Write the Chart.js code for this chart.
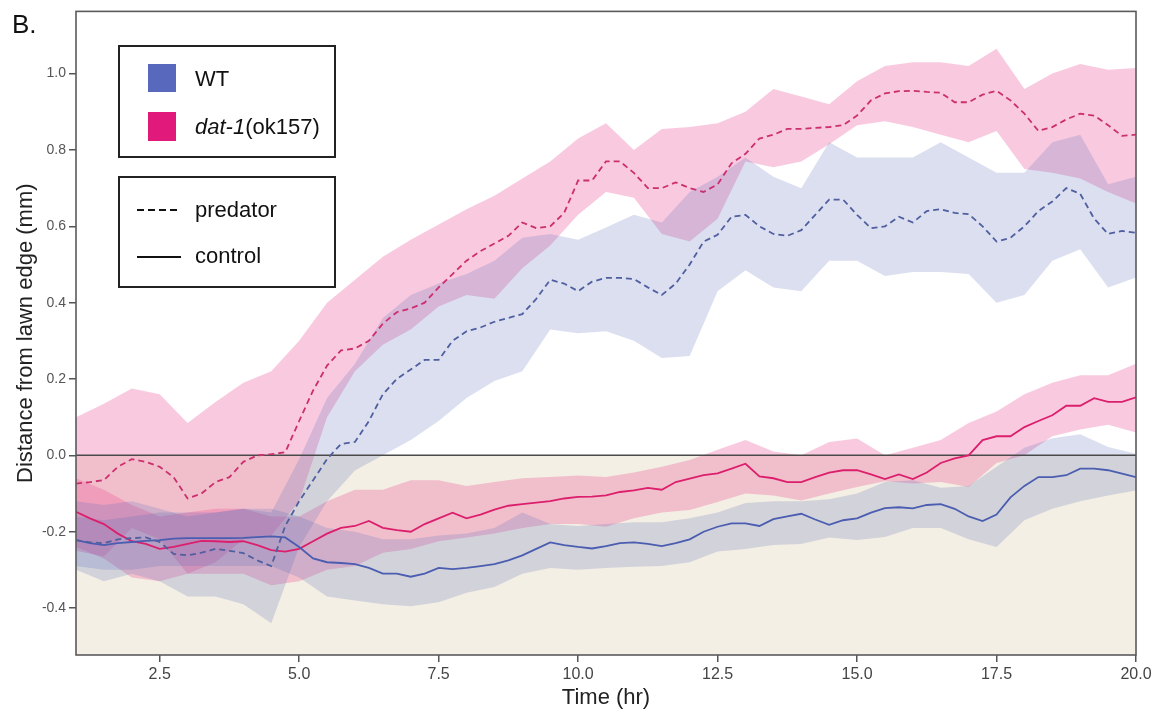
<!DOCTYPE html>
<html>
<head>
<meta charset="utf-8">
<title>Distance from lawn edge</title>
<script src="https://cdn.jsdelivr.net/npm/chart.js@4.4.1/dist/chart.umd.min.js"></script>
<style>
  html, body { margin: 0; padding: 0; background: #fff; }
  #wrap { position: relative; width: 1162px; height: 715px; }
</style>
</head>
<body>
<div id="wrap"><canvas id="chart"></canvas></div>
<script>
// time points (hr) for the shaded bands
const bandTimes = [1, 1.5, 2, 2.5, 3, 3.5, 4, 4.5, 5, 5.5, 6, 6.5, 7, 7.5, 8, 8.5, 9, 9.5, 10,
  10.5, 11, 11.5, 12, 12.5, 13, 13.5, 14, 14.5, 15, 15.5, 16, 16.5, 17, 17.5, 18, 18.5, 19, 19.5, 20];

// time points (hr) for the mean lines
const lineTimes = [
  1, 1.25, 1.5, 1.75, 2, 2.25, 2.5, 2.75, 3, 3.25, 3.5, 3.75, 4, 4.25, 4.5, 4.75,
  5, 5.25, 5.5, 5.75, 6, 6.25, 6.5, 6.75, 7, 7.25, 7.5, 7.75, 8, 8.25, 8.5, 8.75,
  9, 9.25, 9.5, 9.75, 10, 10.25, 10.5, 10.75, 11, 11.25, 11.5, 11.75, 12, 12.25, 12.5, 12.75,
  13, 13.25, 13.5, 13.75, 14, 14.25, 14.5, 14.75, 15, 15.25, 15.5, 15.75, 16, 16.25, 16.5, 16.75,
  17, 17.25, 17.5, 17.75, 18, 18.25, 18.5, 18.75, 19, 19.25, 19.5, 19.75, 20];

// WT, predator (dashed)
const wtPredMean = [
  -0.222, -0.228, -0.23, -0.22, -0.217, -0.215, -0.227, -0.258, -0.262, -0.255, -0.245, -0.25,
  -0.256, -0.275, -0.29, -0.185, -0.12, -0.065, -0.01, 0.03, 0.035, 0.09, 0.16, 0.20,
  0.225, 0.25, 0.25, 0.30, 0.325, 0.335, 0.35, 0.36, 0.37, 0.41, 0.46, 0.45,
  0.43, 0.455, 0.465, 0.465, 0.462, 0.44, 0.42, 0.45, 0.50, 0.56, 0.578, 0.625,
  0.63, 0.60, 0.58, 0.575, 0.59, 0.63, 0.67, 0.67, 0.63, 0.595, 0.60, 0.625,
  0.61, 0.64, 0.645, 0.635, 0.632, 0.60, 0.56, 0.57, 0.60, 0.64, 0.665, 0.70,
  0.685, 0.62, 0.58, 0.588, 0.583];
const wtPredUpper = [-0.12, -0.13, -0.12, -0.14, -0.16, -0.15, -0.14, -0.15, -0.01,
  0.15, 0.24, 0.36, 0.42, 0.45, 0.475, 0.51, 0.57, 0.58, 0.565,
  0.597, 0.63, 0.61, 0.69, 0.73, 0.78, 0.73, 0.70, 0.82, 0.78,
  0.78, 0.78, 0.82, 0.78, 0.74, 0.74, 0.82, 0.84, 0.71, 0.73];
const wtPredLower = [-0.30, -0.33, -0.31, -0.33, -0.37, -0.37, -0.39, -0.44, -0.24,
  -0.12, -0.04, 0.0, 0.04, 0.09, 0.15, 0.195, 0.22, 0.33, 0.32,
  0.325, 0.30, 0.255, 0.26, 0.43, 0.485, 0.44, 0.43, 0.51, 0.51,
  0.47, 0.48, 0.48, 0.475, 0.40, 0.42, 0.51, 0.54, 0.44, 0.466];

// WT, control (solid)
const wtCtrlMean = [
  -0.222, -0.23, -0.235, -0.23, -0.227, -0.224, -0.222, -0.218, -0.217, -0.217, -0.217, -0.217,
  -0.216, -0.214, -0.212, -0.215, -0.24, -0.27, -0.28, -0.282, -0.285, -0.295, -0.31, -0.31,
  -0.318, -0.31, -0.295, -0.298, -0.295, -0.29, -0.285, -0.275, -0.262, -0.245, -0.228, -0.235,
  -0.24, -0.244, -0.238, -0.23, -0.228, -0.232, -0.238, -0.23, -0.22, -0.2, -0.187, -0.178,
  -0.178, -0.185, -0.167, -0.16, -0.153, -0.168, -0.182, -0.17, -0.165, -0.15, -0.138, -0.136,
  -0.139, -0.13, -0.128, -0.14, -0.16, -0.172, -0.155, -0.11, -0.08, -0.057, -0.057, -0.052,
  -0.035, -0.035, -0.039, -0.048, -0.057];
const wtCtrlUpper = [-0.16, -0.17, -0.16, -0.15, -0.15, -0.15, -0.14, -0.14, -0.16,
  -0.19, -0.2, -0.22, -0.22, -0.21, -0.205, -0.19, -0.15, -0.18, -0.185,
  -0.18, -0.175, -0.175, -0.165, -0.15, -0.125, -0.12, -0.12, -0.115, -0.1,
  -0.07, -0.065, -0.085, -0.08, -0.03, 0.02, 0.045, 0.055, 0.022, 0.004];
const wtCtrlLower = [-0.29, -0.30, -0.30, -0.29, -0.29, -0.29, -0.29, -0.29, -0.32,
  -0.37, -0.38, -0.39, -0.395, -0.385, -0.36, -0.345, -0.31, -0.295, -0.30,
  -0.295, -0.292, -0.29, -0.28, -0.252, -0.245, -0.235, -0.232, -0.215, -0.222,
  -0.214, -0.19, -0.19, -0.22, -0.24, -0.17, -0.14, -0.12, -0.105, -0.092];

// dat-1(ok157), predator (dashed)
const datPredMean = [
  -0.074, -0.07, -0.065, -0.03, -0.01, -0.017, -0.03, -0.057, -0.113, -0.10, -0.07, -0.057,
  -0.017, 0.0, 0.003, 0.008, 0.09, 0.17, 0.235, 0.275, 0.28, 0.30, 0.345, 0.375,
  0.385, 0.40, 0.44, 0.475, 0.51, 0.535, 0.555, 0.575, 0.61, 0.595, 0.60, 0.635,
  0.72, 0.72, 0.77, 0.77, 0.74, 0.70, 0.70, 0.715, 0.70, 0.69, 0.71, 0.765,
  0.79, 0.83, 0.84, 0.855, 0.855, 0.858, 0.86, 0.865, 0.89, 0.93, 0.948, 0.954,
  0.955, 0.952, 0.95, 0.925, 0.925, 0.945, 0.955, 0.93, 0.895, 0.85, 0.86, 0.88,
  0.895, 0.89, 0.865, 0.837, 0.84];
const datPredUpper = [0.10, 0.135, 0.175, 0.16, 0.085, 0.14, 0.19, 0.22, 0.30,
  0.40, 0.46, 0.52, 0.565, 0.605, 0.645, 0.68, 0.725, 0.77, 0.83,
  0.87, 0.80, 0.855, 0.86, 0.87, 0.90, 0.96, 0.94, 0.92, 0.98,
  1.02, 1.03, 1.03, 1.02, 1.065, 0.96, 1.0, 1.025, 1.01, 1.015];
const datPredLower = [-0.25, -0.265, -0.19, -0.22, -0.31, -0.28, -0.22, -0.21, -0.12,
  0.10, 0.22, 0.29, 0.33, 0.39, 0.42, 0.41, 0.49, 0.55, 0.63,
  0.69, 0.675, 0.58, 0.56, 0.62, 0.77, 0.755, 0.77, 0.815, 0.865,
  0.875, 0.86, 0.84, 0.82, 0.85, 0.75, 0.74, 0.725, 0.69, 0.66];

// dat-1(ok157), control (solid)
const datCtrlMean = [
  -0.148, -0.165, -0.18, -0.205, -0.225, -0.232, -0.245, -0.24, -0.232, -0.224, -0.225, -0.227,
  -0.225, -0.235, -0.248, -0.252, -0.245, -0.225, -0.205, -0.19, -0.185, -0.172, -0.19, -0.196,
  -0.2, -0.18, -0.165, -0.15, -0.165, -0.155, -0.142, -0.132, -0.128, -0.124, -0.12, -0.113,
  -0.109, -0.108, -0.105, -0.096, -0.092, -0.085, -0.09, -0.07, -0.061, -0.052, -0.047, -0.035,
  -0.022, -0.055, -0.06, -0.07, -0.07, -0.057, -0.045, -0.039, -0.039, -0.05, -0.062, -0.05,
  -0.062, -0.045, -0.02, -0.008, 0.0, 0.04, 0.05, 0.05, 0.074, 0.09, 0.105, 0.13,
  0.13, 0.15, 0.14, 0.14, 0.152];
const datCtrlUpper = [-0.06, -0.09, -0.13, -0.16, -0.15, -0.14, -0.14, -0.16, -0.16,
  -0.12, -0.09, -0.09, -0.065, -0.065, -0.08, -0.07, -0.06, -0.057, -0.053,
  -0.057, -0.045, -0.03, -0.012, 0.015, 0.04, 0.01, 0.0, 0.035, 0.044,
  0.0, 0.02, 0.04, 0.085, 0.115, 0.16, 0.19, 0.21, 0.21, 0.24];
const datCtrlLower = [-0.24, -0.27, -0.32, -0.33, -0.31, -0.31, -0.31, -0.34, -0.33,
  -0.30, -0.29, -0.255, -0.245, -0.225, -0.215, -0.205, -0.19, -0.18, -0.18,
  -0.187, -0.165, -0.15, -0.143, -0.122, -0.1, -0.105, -0.118, -0.10, -0.083,
  -0.068, -0.074, -0.07, -0.083, -0.02, 0.0, 0.05, 0.068, 0.08, 0.06];

// lawn edge (y = 0) across the whole time range
const edgeTimes = [1, 20];
const edgeValues = [0, 0];

const xTicks = [2.5, 5, 7.5, 10, 12.5, 15, 17.5, 20];
const yTicks = [-0.4, -0.2, 0, 0.2, 0.4, 0.6, 0.8, 1.0];

const FONT = '"Liberation Sans", Arial, Helvetica, sans-serif';
Chart.defaults.font.family = FONT;

const wtBand = "rgba(90,110,185,0.22)";
const datBand = "rgba(235,80,150,0.30)";

function pts(xs, ys) {
  return xs.map((t, i) => ({ x: t, y: ys[i] }));
}

function band(lo, hi, color) {
  const base = { pointRadius: 0, borderWidth: 0, borderColor: "rgba(0,0,0,0)", tension: 0, order: 5 };
  return [
    Object.assign({}, base, { data: pts(bandTimes, lo), fill: false }),
    Object.assign({}, base, { data: pts(bandTimes, hi), fill: "-1", backgroundColor: color }),
  ];
}

function meanLine(ys, color, dashed) {
  return {
    data: pts(lineTimes, ys),
    borderColor: color,
    borderWidth: 1.8,
    borderDash: dashed ? [6, 4] : [],
    pointRadius: 0,
    tension: 0,
    fill: false,
    order: 1,
  };
}

// frame round the plot area
const framePlugin = {
  id: "frame",
  afterDatasetsDraw(chart) {
    const a = chart.chartArea;
    const ctx = chart.ctx;
    ctx.save();
    ctx.strokeStyle = "#5a5a5a";
    ctx.lineWidth = 1.6;
    ctx.strokeRect(a.left, a.top, a.right - a.left, a.bottom - a.top);
    ctx.restore();
  },
};

// the two legend boxes and the panel letter
const legendPlugin = {
  id: "boxLegend",
  afterDraw(chart) {
    const ctx = chart.ctx;
    ctx.save();
    ctx.fillStyle = "#111";
    ctx.font = "26px " + FONT;
    ctx.textBaseline = "alphabetic";
    ctx.fillText("B.", 12, 33);

    ctx.strokeStyle = "#222";
    ctx.lineWidth = 2;
    ctx.fillStyle = "#fff";
    ctx.fillRect(119, 46, 216, 111);
    ctx.strokeRect(119, 46, 216, 111);
    ctx.fillRect(119, 177, 216, 110);
    ctx.strokeRect(119, 177, 216, 110);

    ctx.fillStyle = "#5868bd";
    ctx.fillRect(148, 64, 28, 28);
    ctx.fillStyle = "#e0197a";
    ctx.fillRect(148, 112, 28, 29);

    ctx.fillStyle = "#111";
    ctx.font = "22px " + FONT;
    ctx.fillText("WT", 195, 86);
    ctx.font = "italic 22px " + FONT;
    ctx.fillText("dat-1", 195, 134);
    const w = ctx.measureText("dat-1").width;
    ctx.font = "22px " + FONT;
    ctx.fillText("(ok157)", 195 + w, 134);

    ctx.strokeStyle = "#111";
    ctx.lineWidth = 2;
    ctx.setLineDash([7, 4]);
    ctx.beginPath();
    ctx.moveTo(137, 210);
    ctx.lineTo(181, 210);
    ctx.stroke();
    ctx.setLineDash([]);
    ctx.beginPath();
    ctx.moveTo(137, 257);
    ctx.lineTo(181, 257);
    ctx.stroke();
    ctx.fillText("predator", 195, 217);
    ctx.fillText("control", 195, 263);
    ctx.restore();
  },
};

const datasets = [
  {
    data: pts(edgeTimes, edgeValues),
    fill: "start",
    backgroundColor: "#f4efe4",
    borderColor: "#4a4a4a",
    borderWidth: 1.5,
    pointRadius: 0,
    order: 20,
  },
  ...band(wtPredLower, wtPredUpper, wtBand),
  ...band(wtCtrlLower, wtCtrlUpper, wtBand),
  ...band(datPredLower, datPredUpper, datBand),
  ...band(datCtrlLower, datCtrlUpper, datBand),
  meanLine(wtPredMean, "#4f5f9f", true),
  meanLine(wtCtrlMean, "#4a5db0", false),
  meanLine(datPredMean, "#cc2f6e", true),
  meanLine(datCtrlMean, "#dc1f6c", false),
];

new Chart(document.getElementById("chart"), {
  type: "line",
  data: { datasets: datasets },
  plugins: [framePlugin, legendPlugin],
  options: {
    responsive: true,
    maintainAspectRatio: false,
    animation: false,
    layout: { padding: { left: 0, right: 26, top: 10, bottom: 0 } },
    plugins: {
      legend: { display: false },
      tooltip: { enabled: false },
      filler: { drawTime: "beforeDatasetsDraw" },
    },
    scales: {
      x: {
        type: "linear",
        min: 1,
        max: 20,
        afterBuildTicks: (scale) => {
          scale.ticks = xTicks.map((v) => ({ value: v }));
        },
        afterFit: (scale) => {
          scale.height = 60;
        },
        grid: { drawOnChartArea: false, tickLength: 7, color: "#555", lineWidth: 1.5 },
        border: { display: false },
        ticks: {
          color: "#444",
          font: { size: 16 },
          padding: 3,
          maxRotation: 0,
          callback: (v) => Number(v).toFixed(1),
        },
        title: {
          display: true,
          text: "Time (hr)",
          color: "#222",
          font: { size: 22 },
          padding: { top: 0, bottom: 4 },
        },
      },
      y: {
        min: -0.523,
        max: 1.163,
        afterBuildTicks: (scale) => {
          scale.ticks = yTicks.map((v) => ({ value: v }));
        },
        afterFit: (scale) => {
          scale.width = 76;
        },
        grid: { drawOnChartArea: false, tickLength: 7, color: "#555", lineWidth: 1.5 },
        border: { display: false },
        ticks: {
          color: "#555",
          font: { size: 14 },
          padding: 3,
          callback: (v) => Number(v).toFixed(1),
        },
        title: {
          display: true,
          text: "Distance from lawn edge (mm)",
          color: "#222",
          font: { size: 22 },
          padding: { top: 13, bottom: 0 },
        },
      },
    },
  },
});
</script>
</body>
</html>
